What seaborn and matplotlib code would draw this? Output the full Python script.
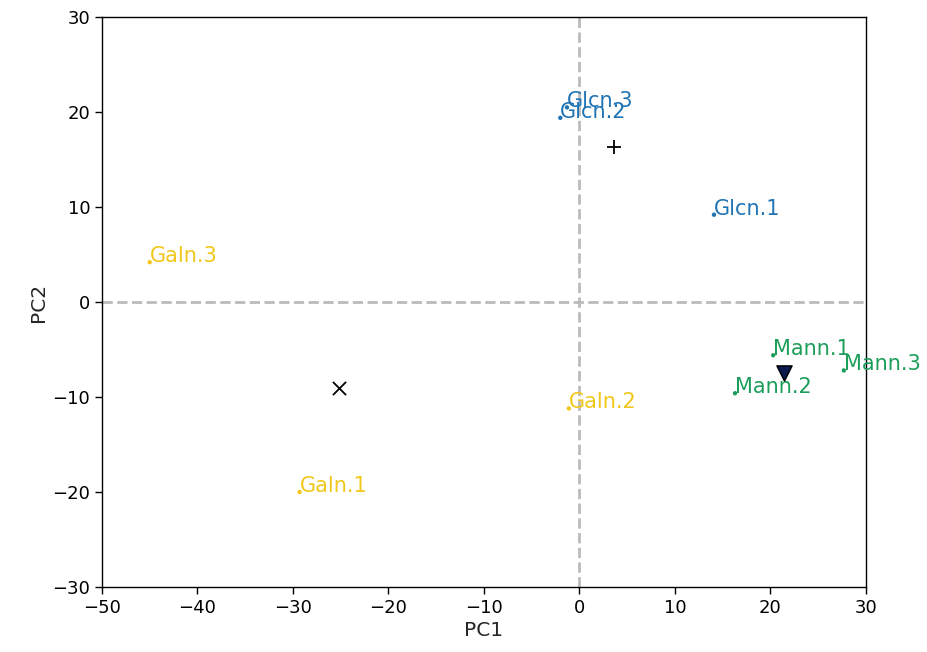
import matplotlib
matplotlib.use("Agg")
import matplotlib.pyplot as plt
import seaborn as sns
import pandas as pd
import numpy as np

samples = ["Glcn.1", "Glcn.2", "Glcn.3", "Galn.1", "Galn.2", "Galn.3", "Mann.1", "Mann.2", "Mann.3"]
groups = ["Glcn", "Glcn", "Glcn", "Galn", "Galn", "Galn", "Mann", "Mann", "Mann"]
pc1 = [14.1, -2.0, -1.3, -29.3, -1.1, -45.0, 20.3, 16.3, 27.7]
pc2 = [9.2, 19.4, 20.5, -20.0, -11.2, 4.2, -5.6, -9.6, -7.2]

group_order = ["Glcn", "Galn", "Mann"]
palette = {"Glcn": "#1f74b4", "Galn": "#f2c71b", "Mann": "#1c9e5a"}
centroid_markers = {"Glcn": "+", "Galn": "x", "Mann": "v"}

df = pd.DataFrame({"sample": samples, "group": groups, "PC1": pc1, "PC2": pc2})

sns.set_style("ticks")
plt.rcParams["font.family"] = ["DejaVu Sans"]

fig = plt.figure(figsize=(9.27, 6.52), dpi=100)
ax = fig.add_axes([0.110, 0.0997, 0.824, 0.874])

ax.axhline(0, color="#bbbbbb", linestyle="--", linewidth=2, zorder=0)
ax.axvline(0, color="#bbbbbb", linestyle="--", linewidth=2, zorder=0)

sns.scatterplot(data=df, x="PC1", y="PC2", hue="group", palette=palette,
                s=10, linewidth=0, legend=False, ax=ax)

for _, r in df.iterrows():
    ax.text(r["PC1"], r["PC2"], r["sample"], color=palette[r["group"]],
            fontsize=15, ha="left", va="baseline")

cent = df.groupby("group")[["PC1", "PC2"]].mean().reset_index()
for _, r in cent.iterrows():
    m = centroid_markers[r["group"]]
    if m == "v":
        ax.scatter(r["PC1"], r["PC2"], marker="v", s=120, color="#0b1a4d",
                   edgecolor="black", linewidth=1, zorder=3)
    else:
        ax.scatter(r["PC1"], r["PC2"], marker=m, s=90, color="black",
                   linewidth=1.3, zorder=3)

ax.set_xlim(-50, 30)
ax.set_ylim(-30, 30)
ax.set_xticks(np.arange(-50, 31, 10))
ax.set_yticks(np.arange(-30, 31, 10))
ax.tick_params(labelsize=13, length=5, width=1, colors="black", direction="out")
for s in ax.spines.values():
    s.set_visible(True)
    s.set_color("black")
    s.set_linewidth(1)
ax.set_xlabel("PC1", fontsize=14.5, labelpad=3)
ax.set_ylabel("PC2", fontsize=14.5, labelpad=3)

fig.savefig("out.png", dpi=100)
